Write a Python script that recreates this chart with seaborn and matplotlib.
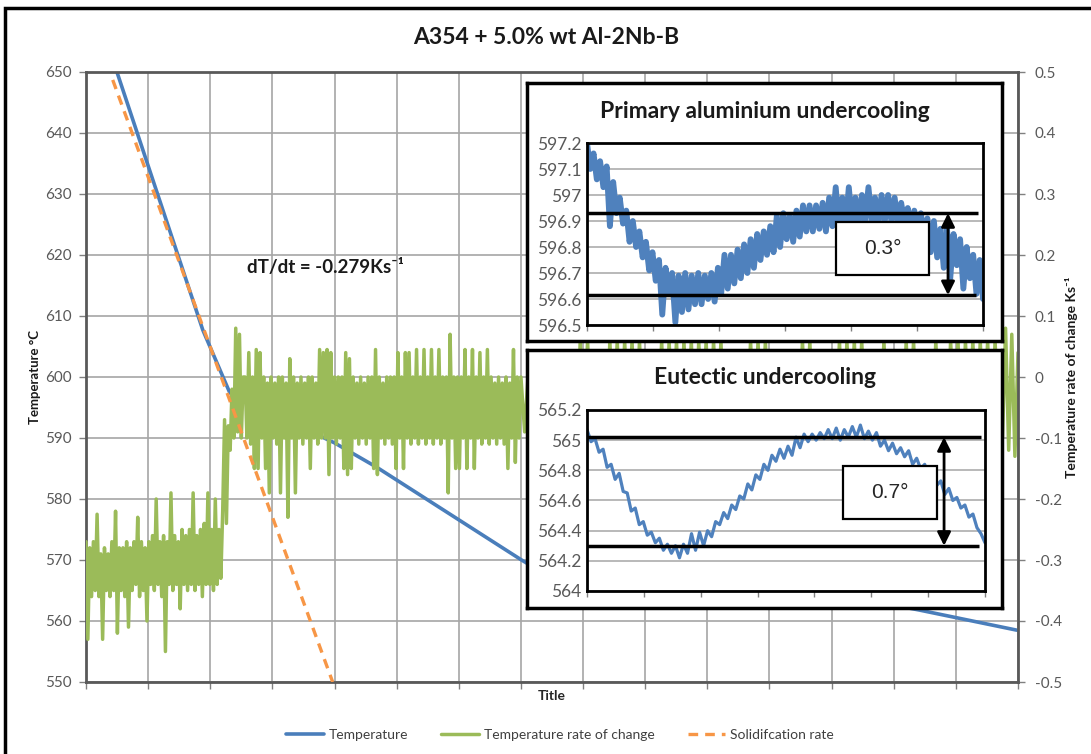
import numpy as np
import matplotlib
matplotlib.use("Agg")
import matplotlib.pyplot as plt
import seaborn as sns
from matplotlib.patches import Rectangle

# ---------------- data ----------------
chart_title = "A354 + 5.0% wt Al-2Nb-B"

temp_time = [4.98, 18.8, 23.15, 24.4, 40.0, 46.8, 70.1, 77.8, 90.7, 108.4, 122.8, 134.1, 149.8]
temp_values = [650.0, 607.7, 597.4, 596.7, 589.2, 585.2, 570.0, 565.3, 564.7, 564.6, 564.0, 561.8, 558.5]

solid_time = [4.3, 39.7]
solid_values = [648.7, 550.0]

# temperature rate of change (Ks^-1), read in four stretches of the time axis
rate_cooling = [
    -0.27, -0.43, -0.28, -0.36, -0.27, -0.35, -0.225, -0.36, -0.29, -0.43,
    -0.28, -0.35, -0.29, -0.36, -0.27, -0.35, -0.22, -0.42, -0.28, -0.35,
    -0.28, -0.36, -0.27, -0.41, -0.28, -0.35, -0.27, -0.34, -0.23, -0.36,
    -0.27, -0.35, -0.28, -0.40, -0.27, -0.34, -0.26, -0.35, -0.20, -0.34,
    -0.27, -0.36, -0.26, -0.45, -0.27, -0.34, -0.19, -0.35, -0.26, -0.34,
    -0.27, -0.38, -0.25, -0.34, -0.26, -0.35, -0.25, -0.34, -0.19, -0.35,
    -0.26, -0.34, -0.25, -0.36, -0.24, -0.34, -0.19, -0.34, -0.25, -0.35,
    -0.20, -0.34, -0.25, -0.33,
]
rate_arrest = [
    -0.22, -0.07, -0.24, -0.08, -0.12, -0.02, -0.10, 0.08, -0.09, 0.07,
    -0.10, 0.00, 0.00, -0.10, 0.04, -0.11, 0.00, -0.15, 0.045, -0.15,
    0.04, -0.10, 0.00, -0.15, -0.01, -0.19, 0.00, -0.10, -0.01, -0.11,
    0.00, -0.19, 0.00, -0.10, -0.01, -0.23, 0.03, -0.10, 0.00, -0.19,
    -0.01, -0.10, 0.00, -0.11, -0.01, -0.10, 0.00, -0.15, 0.00, -0.10,
    -0.01, -0.11, 0.045, -0.10, 0.04, -0.10, 0.045, -0.16, 0.04, -0.10,
    0.00, -0.11, 0.00, -0.10, 0.00, -0.15, 0.04, -0.16, 0.03, -0.15,
    0.00, -0.10, -0.01, -0.11, 0.00, -0.10, -0.01, -0.11, 0.00, -0.10,
    0.00, -0.15, 0.045, -0.16, 0.00, -0.10, -0.01, -0.11, 0.00, -0.10,
    0.00, -0.11, 0.00, -0.15, 0.04, -0.10, 0.00, -0.15, 0.04, -0.10,
    0.04, -0.11, 0.00, -0.10, 0.045, -0.11, 0.00, -0.10, 0.045, -0.11,
    0.00, -0.10, 0.045, -0.11, 0.00, -0.10, 0.045, -0.11, 0.00, -0.10,
    0.00, -0.19, 0.07, -0.10, 0.00, -0.15, 0.00, -0.15, 0.00, -0.10,
    0.045, -0.15, 0.00, -0.10, 0.045, -0.15, 0.00, -0.10, 0.04, -0.11,
    0.00, -0.10, 0.045, -0.11, 0.00, -0.10, -0.01, -0.11, 0.00, -0.10,
    -0.01, -0.11, 0.00, -0.15, -0.01, -0.10, 0.045, -0.14, 0.00, -0.10,
]
rate_late = [
    0.00, -0.09, 0.01, -0.12, 0.01, -0.09, 0.01, -0.15, 0.00, -0.09,
    0.01, -0.12, 0.01, -0.09, 0.00, -0.14, 0.06, -0.09, 0.06, -0.12,
    0.01, -0.09, 0.00, -0.15, 0.06, -0.09, 0.06, -0.12, 0.06, -0.09,
    0.06, -0.13, 0.06, -0.09, 0.01, -0.12, 0.00, -0.09, 0.06, -0.15,
    0.06, -0.09, 0.06, -0.12, 0.06, -0.09, 0.06, -0.14, 0.06, -0.09,
    0.06, -0.12, 0.06, -0.09, 0.06, -0.15, 0.01, -0.09, 0.00, -0.12,
    0.01, -0.09, 0.06, -0.13, 0.06, -0.09, 0.06, -0.12, 0.00, -0.09,
    0.01, -0.15, 0.00, -0.09, 0.01, -0.12, 0.06, -0.09, 0.06, -0.14,
    0.01, -0.09, 0.00, -0.12, 0.01, -0.09, 0.06, -0.15, 0.06, -0.09,
    0.06, -0.12, 0.06, -0.09, 0.01, -0.13, 0.00, -0.09, 0.06, -0.12,
    0.01, -0.09, 0.00, -0.15, 0.06, -0.09, 0.06, -0.12, 0.01, -0.09,
    0.00, -0.14, 0.06, -0.09, 0.01, -0.12, 0.06, -0.09, 0.06, -0.15,
    0.06, -0.09, 0.06, -0.12, 0.06, -0.09, 0.06, -0.13, 0.06, -0.09,
]
rate_end = [-0.10, 0.08, -0.12, 0.07, -0.13, 0.04]
rate_values = rate_cooling + rate_arrest + rate_late + rate_end
rate_time = np.concatenate([
    np.linspace(0, 22, len(rate_cooling), endpoint=False),
    np.linspace(22, 70, len(rate_arrest), endpoint=False),
    np.linspace(70, 147.5, len(rate_late), endpoint=False),
    np.linspace(147.5, 150, len(rate_end)),
])

left_ticks = [550, 560, 570, 580, 590, 600, 610, 620, 630, 640, 650]
right_ticks = [-0.5, -0.4, -0.3, -0.2, -0.1, 0.0, 0.1, 0.2, 0.3, 0.4, 0.5]
right_labels = ["-0.5", "-0.4", "-0.3", "-0.2", "-0.1", "0", "0.1", "0.2", "0.3", "0.4", "0.5"]
x_ticks = list(range(0, 151, 10))

primary_values = [
    597.20, 597.10, 597.16, 597.06, 597.13, 597.03, 597.11, 596.88, 597.05, 596.93,
    596.99, 596.89, 596.94, 596.82, 596.90, 596.80, 596.86, 596.76, 596.82, 596.71,
    596.78, 596.67, 596.75, 596.54, 596.72, 596.62, 596.70, 596.51, 596.69, 596.55,
    596.70, 596.56, 596.69, 596.58, 596.70, 596.58, 596.69, 596.60, 596.70, 596.59,
    596.72, 596.62, 596.77, 596.64, 596.77, 596.66, 596.79, 596.68, 596.81, 596.70,
    596.83, 596.72, 596.85, 596.75, 596.86, 596.77, 596.88, 596.78, 596.92, 596.80,
    596.93, 596.83, 596.92, 596.82, 596.94, 596.84, 596.96, 596.86, 596.96, 596.86,
    596.96, 596.87, 596.97, 596.86, 596.99, 596.88, 597.03, 596.87, 596.99, 596.88,
    597.03, 596.89, 596.99, 596.89, 597.00, 596.90, 597.03, 596.90, 596.99, 596.89,
    597.00, 596.90, 597.00, 596.90, 596.99, 596.89, 596.97, 596.89, 596.95, 596.87,
    596.94, 596.85, 596.93, 596.83, 596.91, 596.78, 596.90, 596.76, 596.87, 596.72,
    596.87, 596.68, 596.85, 596.73, 596.83, 596.64, 596.80, 596.68, 596.77, 596.62,
    596.75, 596.60,
]
primary_time = np.linspace(0, 60, len(primary_values))
primary_ticks = [596.5, 596.6, 596.7, 596.8, 596.9, 597.0, 597.1, 597.2]
primary_labels = ["596.5", "596.6", "596.7", "596.8", "596.9", "597", "597.1", "597.2"]
primary_levels = [596.93, 596.615]
primary_label = "0.3°"

eutectic_values = [
    565.07, 564.99, 565.01, 564.92, 564.94, 564.82, 564.84, 564.74, 564.78, 564.66,
    564.65, 564.53, 564.55, 564.44, 564.46, 564.37, 564.39, 564.32, 564.35, 564.27,
    564.31, 564.25, 564.30, 564.22, 564.31, 564.25, 564.38, 564.27, 564.39, 564.30,
    564.40, 564.36, 564.46, 564.44, 564.52, 564.48, 564.57, 564.54, 564.63, 564.61,
    564.71, 564.67, 564.77, 564.74, 564.84, 564.80, 564.90, 564.86, 564.94, 564.88,
    564.96, 564.90, 565.02, 564.95, 565.04, 564.99, 565.04, 565.00, 565.05, 565.01,
    565.07, 565.01, 565.08, 565.00, 565.07, 565.02, 565.09, 565.02, 565.10, 565.01,
    565.06, 565.00, 565.05, 564.96, 565.00, 564.93, 564.98, 564.91, 564.95, 564.89,
    564.93, 564.84, 564.88, 564.81, 564.84, 564.76, 564.78, 564.70, 564.73, 564.64,
    564.68, 564.60, 564.62, 564.55, 564.57, 564.49, 564.51, 564.42, 564.38, 564.32,
]
eutectic_time = np.linspace(0, 70, len(eutectic_values))
eutectic_ticks = [564.0, 564.2, 564.4, 564.6, 564.8, 565.0, 565.2]
eutectic_labels = ["564", "564.2", "564.4", "564.6", "564.8", "565", "565.2"]
eutectic_levels = [565.02, 564.30]
eutectic_label = "0.7°"

legend_labels = ["Temperature", "Temperature rate of change", "Solidifcation rate"]

# ---------------- style ----------------
sns.set_theme(style="white")
plt.rcParams["font.family"] = ["Lato", "DejaVu Sans"]

BLUE = "#4a7ebb"
INSET_BLUE = "#4f81bd"
GREEN = "#9bbb59"
ORANGE = "#f79646"
TICK_GREY = "#595959"
GRID = "#a6a6a6"
SPINE = "#595959"

W, H = 1091, 754
fig = plt.figure(figsize=(W / 100, H / 100), dpi=100)
fig.patch.set_facecolor("white")

main_rect = [86 / W, 1 - 682 / H, (1018 - 86) / W, (682 - 72) / H]
ax = fig.add_axes(main_rect)
ax.set_zorder(1)

sns.lineplot(x=temp_time, y=temp_values, ax=ax, color=BLUE, linewidth=2.6,
             estimator=None, sort=False, label=legend_labels[0])
ax.set_xlim(0, 150)
ax.set_ylim(550, 650)
ax.set_xticks(x_ticks)
ax.set_xticklabels([])
ax.set_yticks(left_ticks)
ax.set_yticklabels([str(t) for t in left_ticks])
ax.grid(True, color=GRID, linewidth=1.2)
ax.set_axisbelow(True)
ax.tick_params(axis="both", direction="out", length=5, width=1, color="#808080",
               labelcolor=TICK_GREY, labelsize=11, pad=5, left=True, bottom=True)
for s in ["left", "bottom", "top"]:
    ax.spines[s].set_color(SPINE)
    ax.spines[s].set_linewidth(2)
ax.spines["right"].set_visible(False)
ax.set_ylabel("")
ax.set_xlabel("Title", fontsize=10, fontweight="bold", color="#262626", labelpad=-4)

ax2 = ax.twinx()
ax2.set_zorder(2)
ax2.patch.set_visible(False)
sns.lineplot(x=rate_time, y=rate_values, ax=ax2, color=GREEN, linewidth=2.5,
             estimator=None, sort=False, label=legend_labels[1])
ax2.set_ylim(-0.5, 0.5)
ax2.set_yticks(right_ticks)
ax2.set_yticklabels(right_labels)
ax2.grid(False)
ax2.tick_params(axis="y", direction="out", length=5, width=1, color="#808080",
                labelcolor=TICK_GREY, labelsize=11, pad=7, right=True)
for s in ["left", "bottom", "top"]:
    ax2.spines[s].set_visible(False)
ax2.spines["right"].set_color(SPINE)
ax2.spines["right"].set_linewidth(2)
ax2.set_ylabel("")

ax3 = fig.add_axes(main_rect)
ax3.set_zorder(3)
ax3.patch.set_visible(False)
sns.lineplot(x=solid_time, y=solid_values, ax=ax3, color=ORANGE, linewidth=2.4,
             linestyle=(0, (2.9, 2.1)), estimator=None, sort=False, label=legend_labels[2])
ax3.set_xlim(0, 150)
ax3.set_ylim(550, 650)
ax3.set_axis_off()

handles = []
for a in (ax, ax2, ax3):
    handles.append(a.get_lines()[0])
    if a.get_legend() is not None:
        a.get_legend().remove()

# axis labels and titles
fig.text(546 / W, 1 - 37 / H, chart_title, ha="center", va="center",
         fontsize=16.5, fontweight="bold", color="#1a1a1a")
fig.text(35 / W, 1 - 377 / H, "Temperature °C", rotation=90, ha="center", va="center",
         fontsize=9.5, fontweight="bold", color="#1a1a1a")
fig.text(1072 / W, 1 - 377 / H, "Temperature rate of change Ks⁻¹", rotation=90,
         ha="center", va="center", fontsize=10, fontweight="bold", color="#1a1a1a")
fig.text(325 / W, 1 - 268 / H, "dT/dt = -0.279Ks⁻¹", ha="center", va="center",
         fontsize=13.5, fontweight="bold", color="#1a1a1a")

leg = fig.legend(handles, legend_labels, loc="center", bbox_to_anchor=(560 / W, 1 - 735 / H),
                 ncol=3, frameon=False, fontsize=10, handlelength=2.7,
                 columnspacing=2.4, handletextpad=0.35)
for t in leg.get_texts():
    t.set_color("#404040")

# outer frame
fig.add_artist(Rectangle((5 / W, -0.05), 1.2, 1 - 8 / H + 0.05, transform=fig.transFigure,
                         fill=False, edgecolor="black", linewidth=2.5, clip_on=False))


def make_inset(frame_px, axes_px, title, title_y, times, values, line_w, ticks, labels,
               levels, level_ends, arrow_x, box, box_text, n_xt, xmax):
    fx0, fy0, fx1, fy1 = frame_px
    fr = fig.add_axes([fx0 / W, 1 - fy1 / H, (fx1 - fx0) / W, (fy1 - fy0) / H])
    fr.set_zorder(5)
    fr.set_facecolor("white")
    fr.set_xticks([])
    fr.set_yticks([])
    for s in fr.spines.values():
        s.set_color("black")
        s.set_linewidth(2.5)
    fr.text(0.5, title_y, title, transform=fr.transAxes, ha="center", va="center",
            fontsize=16.5, fontweight="bold", color="#1a1a1a")

    ax0, ay0, ax1_, ay1 = axes_px
    ia = fig.add_axes([ax0 / W, 1 - ay1 / H, (ax1_ - ax0) / W, (ay1 - ay0) / H])
    ia.set_zorder(6)
    ia.set_facecolor("white")
    sns.lineplot(x=times, y=values, ax=ia, color=INSET_BLUE, linewidth=line_w,
                 estimator=None, sort=False)
    ia.set_xlim(0, xmax)
    ia.set_ylim(ticks[0], ticks[-1])
    ia.set_yticks(ticks)
    ia.set_yticklabels(labels)
    ia.set_xticks(np.linspace(0, xmax, n_xt + 1))
    ia.set_xticklabels([])
    ia.yaxis.grid(True, color=GRID, linewidth=1.1)
    ia.xaxis.grid(False)
    ia.set_axisbelow(True)
    ia.tick_params(axis="y", direction="out", length=0, labelsize=12.5,
                   labelcolor=TICK_GREY, pad=4, left=True)
    ia.tick_params(axis="x", direction="out", length=4, width=1, color="#808080",
                   bottom=True)
    for s in ia.spines.values():
        s.set_color("black")
        s.set_linewidth(2)
    ia.set_xlabel("")
    ia.set_ylabel("")
    for lv, xe in zip(levels, level_ends):
        ia.hlines(lv, 0, xe, color="black", linewidth=2.5, zorder=4)
    ia.annotate("", xy=(arrow_x, levels[1]), xytext=(arrow_x, levels[0]),
                arrowprops=dict(arrowstyle="<|-|>", color="black", lw=2,
                                mutation_scale=20, shrinkA=0, shrinkB=0), zorder=6)
    bx, by, bw, bh = box
    ia.add_patch(Rectangle((bx, by), bw, bh, transform=ia.transAxes, facecolor="white",
                           edgecolor="black", linewidth=1.6, zorder=5))
    ia.text(bx + bw / 2, by + bh / 2, box_text, transform=ia.transAxes, ha="center",
            va="center", fontsize=15, family=["Liberation Sans", "DejaVu Sans"], zorder=7)
    return ia


make_inset((527, 83, 1002, 341), (587, 143, 983, 325), "Primary aluminium undercooling",
           0.888, primary_time, primary_values, 4.2, primary_ticks, primary_labels,
           primary_levels, [59.2, 58.9], 54.7, (0.629, 0.275, 0.235, 0.291),
           primary_label, 6, 60)
make_inset((527, 350, 1002, 608), (587, 410, 985, 591), "Eutectic undercooling",
           0.895, eutectic_time, eutectic_values, 2.3, eutectic_ticks, eutectic_labels,
           eutectic_levels, [69.3, 68.95], 62.8, (0.643, 0.398, 0.236, 0.292),
           eutectic_label, 7, 70)

fig.savefig("out.png", dpi=100, facecolor="white")
